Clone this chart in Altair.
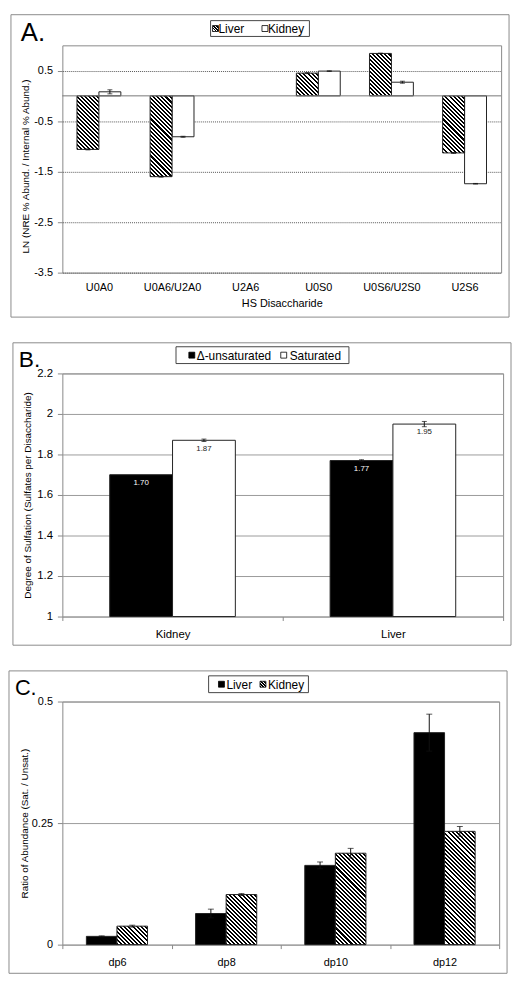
import json
import math
import altair as alt
import pandas as pd

FONT = "Liberation Sans"

# ---------------- data ----------------
# Panel A
A_cats = ["U0A0", "U0A6/U2A0", "U2A6", "U0S0", "U0S6/U2S0", "U2S6"]
A_series = ["Liver", "Kidney"]
A_liver = [-1.06, -1.60, None, 0.45, 0.84, -1.13]
A_liver_err = [0.01, 0.01, None, 0.01, 0.006, 0.01]
A_kidney = [0.08, -0.81, None, 0.49, 0.27, -1.74]
A_kidney_err = [0.04, 0.01, None, 0.006, 0.02, 0.006]
A_ticks = [-3.5, -2.5, -1.5, -0.5, 0.5]

# Panel B
B_cats = ["Kidney", "Liver"]
B_series = ["Δ-unsaturated", "Saturated"]
B_unsat = [1.70, 1.77]
B_unsat_err = [0.0, 0.004]
B_sat = [1.87, 1.95]
B_sat_err = [0.006, 0.013]
B_ticks = [1, 1.2, 1.4, 1.6, 1.8, 2, 2.2]

# Panel C
C_cats = ["dp6", "dp8", "dp10", "dp12"]
C_series = ["Liver", "Kidney"]
C_liver = [0.017, 0.064, 0.163, 0.436]
C_liver_err = [0.001, 0.009, 0.007, 0.038]
C_kidney = [0.038, 0.103, 0.188, 0.233]
C_kidney_err = [0.002, 0.002, 0.010, 0.010]
C_ticks = [0, 0.25, 0.5]


def make_df(cats, series, vals_list, errs_list, base, group):
    rows = []
    for j, (s, vals, errs) in enumerate(zip(series, vals_list, errs_list)):
        for i, (c, v, e) in enumerate(zip(cats, vals, errs)):
            if v is None:
                continue
            x0 = i - group / 2 + j * group / 2
            x1 = x0 + group / 2
            rows.append(dict(cat=c, idx=i, series=s, value=v, err=e, lo=v - e, hi=v + e,
                             base=base, label=f"{v:.2f}", x0=x0, x1=x1, xc=(x0 + x1) / 2))
    return pd.DataFrame(rows)


def hatch(w, h, period=2.9):
    k = (w + h) / (w * w + h * h)
    d = (w + h) / math.sqrt(2)
    n = max(1, int(round(d / period)))
    stops = []
    for i in range(n):
        a, b, c = i / n, (i + 0.5) / n, (i + 1) / n
        stops += [
            alt.GradientStop(offset=round(a, 5), color="black"),
            alt.GradientStop(offset=round(b, 5), color="black"),
            alt.GradientStop(offset=round(b, 5), color="white"),
            alt.GradientStop(offset=round(c, 5), color="white"),
        ]
    return alt.LinearGradient(gradient="linear", stops=stops, x1=0, y1=1,
                              x2=round(k * w, 5), y2=round(1 - k * h, 5))


ONE = pd.DataFrame({"k": [0]})


def frame(L, T, R, B, W, H):
    return alt.Chart(ONE).mark_rect(fill="white", fillOpacity=0, stroke="#8a8a8a",
                                    strokeWidth=1).encode(
        x=alt.value(-L), x2=alt.value(W + R), y=alt.value(-T), y2=alt.value(H + B))


def legend(x0, y0, w, h, items):
    layers = [alt.Chart(ONE).mark_rect(fill="white", stroke="#444", strokeWidth=1).encode(
        x=alt.value(x0), x2=alt.value(x0 + w), y=alt.value(y0), y2=alt.value(y0 + h))]
    cy = y0 + h / 2
    for sx, sfill, tx, txt in items:
        layers.append(alt.Chart(ONE).mark_rect(fill=sfill, stroke="black", strokeWidth=0.8).encode(
            x=alt.value(x0 + sx), x2=alt.value(x0 + sx + 6),
            y=alt.value(cy - 3), y2=alt.value(cy + 3)))
        layers.append(alt.Chart(ONE).mark_text(text=txt, align="left", baseline="middle",
                                               fontSize=12, font=FONT, color="black").encode(
            x=alt.value(x0 + tx), y=alt.value(cy + 0.5)))
    return layers


def letter(txt, size, x, y):
    return alt.Chart(ONE).mark_text(text=txt, align="left", baseline="alphabetic",
                                    fontSize=size, font=FONT, color="black").encode(
        x=alt.value(x), y=alt.value(y))


def x_axis(cats, with_ticks, **kw):
    names = json.dumps(cats)
    n = len(cats)
    if with_ticks:
        vals = [i * 0.5 - 0.5 for i in range(2 * n + 1)]
        return alt.Axis(values=vals, grid=False, domain=False, labelAngle=0,
                        labelOverlap=False, labelFlush=False, tickSize=4, tickColor="#888",
                        tickOpacity={"condition": {"test": "datum.value % 1 !== 0", "value": 1},
                                     "value": 0},
                        labelExpr=f"datum.value % 1 === 0 ? {names}[datum.value] : ''", **kw)
    return alt.Axis(values=list(range(n)), grid=False, domain=False, labelAngle=0,
                    labelOverlap=False, labelFlush=False, ticks=False, tickSize=0,
                    labelExpr=f"{names}[datum.value]", **kw)


def panel(df, cats, series, W, H, L, T, R, B, ydom, yaxis, xaxis, group, fills,
          hatch_series, pxu, cap, deco, extra=None, label_colors=None):
    n = len(cats)
    xs = alt.Scale(domain=[-0.5, n - 0.5], nice=False, zero=False)
    X0 = alt.X("x0:Q", scale=xs, axis=xaxis)
    X1 = alt.X2("x1:Q")
    XC = alt.X("xc:Q", scale=xs, axis=xaxis)
    ys = alt.Scale(domain=ydom, nice=False, zero=False)

    def Yf(f):
        return alt.Y(f"{f}:Q", scale=ys, axis=yaxis)

    barw = W / n * group / 2
    layers = [frame(L, T, R, B, W, H)]
    for s, fv in zip(series, fills):
        if s == hatch_series:
            continue
        layers.append(alt.Chart(df).transform_filter(alt.datum.series == s).mark_bar(
            fill=fv, stroke="#222", strokeWidth=1).encode(
            x=X0, x2=X1, y=Yf("value"), y2=alt.Y2("base:Q")))
    if hatch_series:
        for _, r in df[df.series == hatch_series].iterrows():
            bh = abs(r["value"] - r["base"]) * pxu
            layers.append(alt.Chart(df).transform_filter(
                (alt.datum.cat == r["cat"]) & (alt.datum.series == hatch_series)
            ).mark_bar(fill=hatch(barw, bh), stroke="#222", strokeWidth=1).encode(
                x=X0, x2=X1, y=Yf("value"), y2=alt.Y2("base:Q")))
    if extra is not None:
        layers.append(extra(Yf))
    edf = df[df.err > 0]
    layers.append(alt.Chart(edf).mark_rule(color="#111", strokeWidth=1).encode(
        x=XC, y=Yf("lo"), y2=alt.Y2("hi:Q")))
    for f in ["lo", "hi"]:
        layers.append(alt.Chart(edf).mark_tick(orient="horizontal", size=cap, thickness=1,
                                               color="#111").encode(x=XC, y=Yf(f)))
    if label_colors:
        for s, col in zip(series, label_colors):
            layers.append(alt.Chart(df).transform_filter(alt.datum.series == s).mark_text(
                fontSize=8, dy=8.5, baseline="middle", font=FONT, color=col).encode(
                x=XC, y=Yf("value"), text="label:N"))
    layers += deco
    return alt.layer(*layers).properties(width=W, height=H)


# ---------------- Panel A ----------------
WA, HA, LA, TA, RA, BA = 444, 230, 52, 31, 8, 45
GA = 0.6
dfA = make_df(A_cats, A_series, [A_liver, A_kidney], [A_liver_err, A_kidney_err], 0, GA)
yaxisA = alt.Axis(values=A_ticks, title="LN (NRE % Abund. / Internal % Abund.)",
                  grid=True, gridDash=[1, 1], gridColor="#555", domain=False,
                  ticks=True, tickSize=5, tickColor="#888", labelPadding=5, labelFontSize=11,
                  labelExpr="datum.value < 0 ? '-' + format(-datum.value, '.1f') : format(datum.value, '.1f')",
                  titleFontSize=10, titleX=-37.5, titleY=122, titleAngle=-90,
                  titleBaseline="middle", titleAlign="center", titleFontWeight="normal")
xaxisA = x_axis(A_cats, False, title="HS Disaccharide", labelPadding=9, labelFontSize=11,
                titleFontSize=11, titleY=31, titleBaseline="middle", titleFontWeight="normal")


def zero_rule(Yf):
    return alt.Chart(pd.DataFrame({"zero": [0]})).mark_rule(color="#777", strokeWidth=1).encode(
        y=Yf("zero"))


decoA = legend(150, -25, 100, 16, [(2, hatch(6, 6, 2.4), 8, "Liver"), (52, "white", 58, "Kidney")])
decoA.append(letter("A.", 26, -42, -4))
pA = panel(dfA, A_cats, A_series, WA, HA, LA, TA, RA, BA, [-3.5, 1.0], yaxisA, xaxisA, GA,
           ["white", "white"], "Liver", HA / 4.5, 5, decoA, extra=zero_rule)

# ---------------- Panel B ----------------
WB, HB, LB, TB, RB, BB = 446, 246, 50, 31, 8, 29
GB = 0.57
dfB = make_df(B_cats, B_series, [B_unsat, B_sat], [B_unsat_err, B_sat_err], 1, GB)
yaxisB = alt.Axis(values=B_ticks, title="Degree of Sulfation (Sulfates per Disaccharide)",
                  grid=True, gridColor="#9a9a9a", domain=False, ticks=True, tickSize=5,
                  tickColor="#888", labelPadding=5, labelFontSize=11.5,
                  labelExpr="toString(datum.value)", titleFontSize=10, titleX=-35.5, titleY=123,
                  titleAngle=-90, titleBaseline="middle", titleAlign="center",
                  titleFontWeight="normal")
xaxisB = x_axis(B_cats, True, title=None, labelPadding=8, labelFontSize=11.5)
decoB = legend(115, -27, 175, 17, [(13, "black", 21, "Δ-unsaturated"), (106, "white", 115, "Saturated")])
decoB.append(letter("B.", 23, -44, -7))
pB = panel(dfB, B_cats, B_series, WB, HB, LB, TB, RB, BB, [1, 2.2], yaxisB, xaxisB, GB,
           ["black", "white"], None, HB / 1.2, 5, decoB, label_colors=["white", "#222"])

# ---------------- Panel C ----------------
WC, HC, LC, TC, RC, BC = 442, 246, 54, 31, 8, 29
GC = 0.56
dfC = make_df(C_cats, C_series, [C_liver, C_kidney], [C_liver_err, C_kidney_err], 0, GC)
yaxisC = alt.Axis(values=C_ticks, title="Ratio of Abundance (Sat. / Unsat.)",
                  grid=True, gridColor="#9a9a9a", domain=False, ticks=True, tickSize=5,
                  tickColor="#888", labelPadding=5, labelFontSize=11,
                  labelExpr="toString(datum.value)", titleFontSize=10, titleX=-38, titleY=123,
                  titleAngle=-90, titleBaseline="middle", titleAlign="center",
                  titleFontWeight="normal")
xaxisC = x_axis(C_cats, True, title=None, labelPadding=8, labelFontSize=11)
decoC = legend(148, -26, 101, 17, [(10, "black", 18, "Liver"), (52, hatch(6, 6, 2.4), 60, "Kidney")])
decoC.append(letter("C.", 22, -48, -7))
pC = panel(dfC, C_cats, C_series, WC, HC, LC, TC, RC, BC, [0, 0.5], yaxisC, xaxisC, GC,
           ["black", "white"], "Kidney", HC / 0.5, 6, decoC)

chart = alt.vconcat(pA, pB, pC, spacing=24).properties(padding=0).configure_view(
    stroke="#888", strokeWidth=1
).configure_axis(
    labelFont=FONT, titleFont=FONT, labelColor="black", titleColor="black"
).configure_text(font=FONT)

chart.save("out.html", embed_options={"renderer": "svg", "actions": False})
